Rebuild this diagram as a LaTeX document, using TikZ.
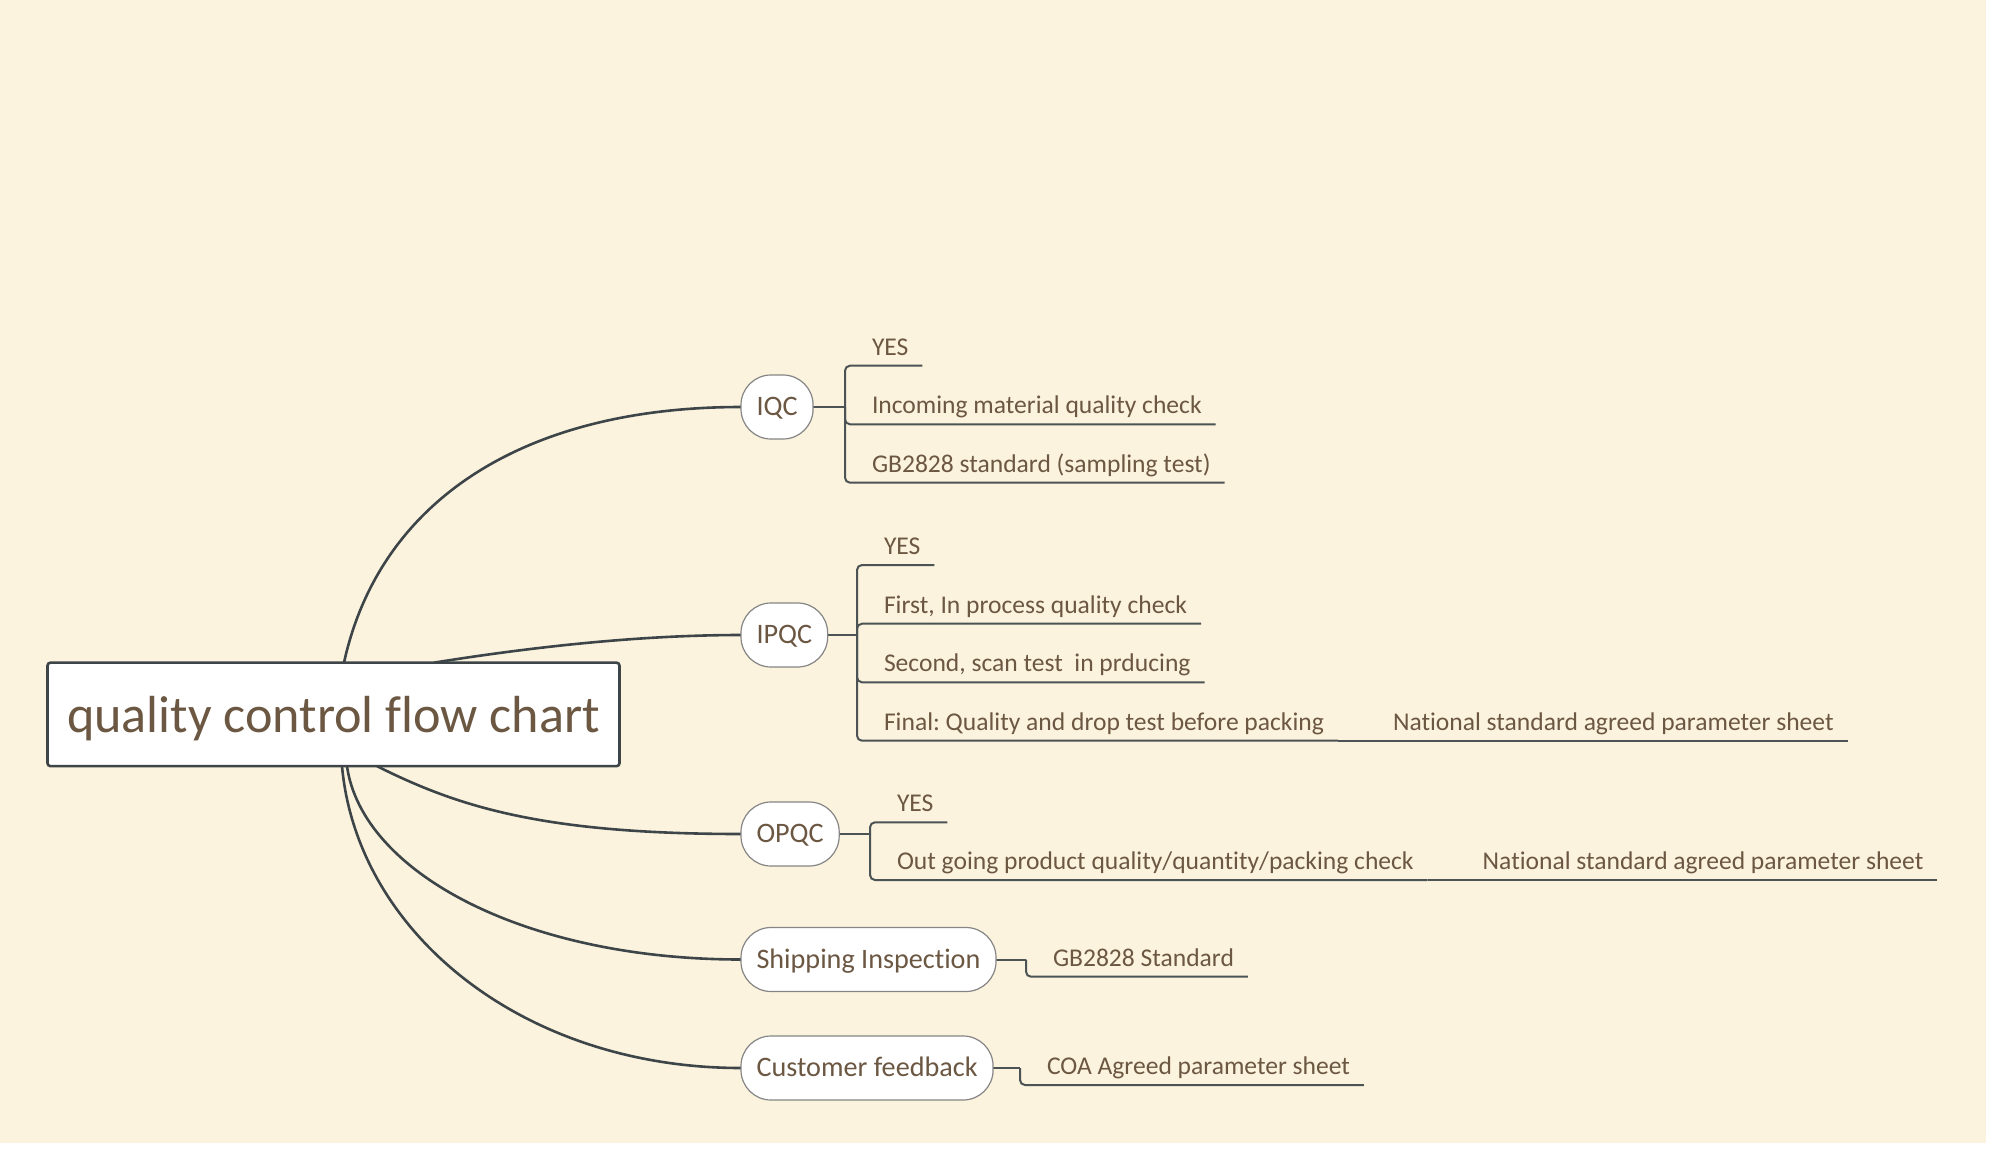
\documentclass[tikz,border=0pt]{standalone}
\usepackage{fontspec}
\setmainfont[Ligatures={NoCommon}]{Carlito}
\usetikzlibrary{calc}
\pgfdeclarelayer{bg}
\pgfdeclarelayer{links}
\pgfsetlayers{bg,links,main}
\definecolor{bgcream}{HTML}{FCF3DE}
\definecolor{txtbrown}{HTML}{6B5742}
\definecolor{linedark}{HTML}{3D4549}
\definecolor{elbowc}{HTML}{4B5355}
\definecolor{topicborder}{HTML}{858585}
\frenchspacing
\newlength\calibw
\newcommand\calibfont[3]{\settowidth\calibw{\fontsize{10pt}{12pt}\selectfont #2}\pgfmathsetmacro#1{10*#3/\calibw}}
\begin{document}
\calibfont\titlesz{quality control flow chart}{533}%
\calibfont\topicsz{Shipping Inspection}{224}%
\calibfont\leafsz{Final: Quality and drop test before packing}{440}%
\pgfmathsetmacro\titleht{0.69*\titlesz}%
\pgfmathsetmacro\topicht{0.632*\topicsz}%
\begin{tikzpicture}[x=1pt,y=-1pt]
\tikzset{
  rootbox/.style={draw=linedark, line width=2.6pt, fill=white, rounded corners=3pt,
    minimum width=572pt, minimum height=103.5pt, inner sep=0pt, outer sep=0pt,
    text=txtbrown, font=\fontsize{\titlesz pt}{\titlesz pt}\selectfont,
    text height=\titleht pt, text depth=0pt},
  topic/.style={draw=topicborder, line width=1.2pt, fill=white, rounded corners=30pt,
    minimum height=64pt, inner xsep=15.5pt, inner ysep=0pt, outer sep=0pt,
    text=txtbrown, font=\fontsize{\topicsz pt}{\topicsz pt}\selectfont,
    text height=\topicht pt, text depth=0pt, anchor=west},
  leaf/.style={anchor=south west, inner xsep=14pt, inner ysep=10.5pt, outer sep=0pt,
    text depth=0pt, text=txtbrown, font=\fontsize{\leafsz pt}{\leafsz pt}\selectfont},
  branch/.style={draw=linedark, line width=2.6pt},
  elbow/.style={draw=elbowc, line width=2pt, rounded corners=5pt},
}
\begin{pgfonlayer}{bg}
\fill[white] (0,0) rectangle (2000,1151);
\fill[bgcream] (0,0) rectangle (1986,1143);
\end{pgfonlayer}
\useasboundingbox (0,0) rectangle (2000,1151);

% root and topics
\node[rootbox] (root) at (333.5,714.4) {quality control flow chart};
\node[topic] (iqc) at (741,407) {IQC};
\node[topic] (ipqc) at (741,635) {IPQC};
\node[topic] (opqc) at (741,834) {OPQC};
\node[topic] (ship) at (741,959.5) {Shipping Inspection};
\node[topic] (cust) at (741,1068) {Customer feedback};

% junctions
\coordinate (jiqc) at (845,407);
\coordinate (jipqc) at (857,635);
\coordinate (jopqc) at (870,834);
\coordinate (jship) at (1026,959.5);
\coordinate (jcust) at (1020,1068);

% leaves
\node[leaf] (iqc1) at (858,365.7) {YES};
\node[leaf] (iqc2) at (858,424.3) {Incoming material quality check};
\node[leaf] (iqc3) at (858,482.7) {GB2828 standard (sampling test)};

\node[leaf] (ipqc1) at (870,565) {YES};
\node[leaf] (ipqc2) at (870,623.7) {First, In process quality check};
\node[leaf] (ipqc3) at (870,682.3) {Second, scan test\ \ in prducing};
\node[leaf] (ipqc4) at (870,740.7) {Final: Quality and drop test before packing};
\node[leaf] (ipqc4a) at ($(ipqc4.south east)+(41,0)$) {National standard agreed parameter sheet};

\node[leaf] (opqc1) at (883,822.3) {YES};
\node[leaf] (opqc2) at (883,880) {Out going product quality/quantity/packing check};
\node[leaf] (opqc2a) at ($(opqc2.south east)+(41,0)$) {National standard agreed parameter sheet};

\node[leaf] (ship1) at (1039,976.7) {GB2828 Standard};
\node[leaf] (cust1) at (1033,1085) {COA Agreed parameter sheet};

\begin{pgfonlayer}{links}
% main curved branches
\draw[branch] ([xshift=10.5pt]root.north) .. controls +(35,-160) and +(-220,0) .. (iqc.west);
\draw[branch] ([xshift=100.5pt]root.north) .. controls +(100,-16) and +(-100,0) .. (ipqc.west);
\draw[branch] ([xshift=43.5pt]root.south) .. controls +(80,40) and +(-200,0) .. (opqc.west);
\draw[branch] ([xshift=13.5pt]root.south) .. controls +(15,106) and +(-217,0) .. (ship.west);
\draw[branch] ([xshift=8.5pt]root.south) .. controls +(15,166) and +(-219,0) .. (cust.west);

% topic to junction
\draw[elbow] (iqc.east) -- (jiqc);
\draw[elbow] (ipqc.east) -- (jipqc);
\draw[elbow] (opqc.east) -- (jopqc);
\draw[elbow] (ship.east) -- (jship);
\draw[elbow] (cust.east) -- (jcust);

% elbows to leaves
\foreach \l in {iqc1,iqc2,iqc3} \draw[elbow] (jiqc) |- (\l.south east);
\foreach \l in {ipqc1,ipqc2,ipqc3,ipqc4} \draw[elbow] (jipqc) |- (\l.south east);
\foreach \l in {opqc1,opqc2} \draw[elbow] (jopqc) |- (\l.south east);
\draw[elbow] (jship) |- (ship1.south east);
\draw[elbow] (jcust) |- (cust1.south east);
\draw[elbow] (ipqc4.south east) -- (ipqc4a.south east);
\draw[elbow] (opqc2.south east) -- (opqc2a.south east);
\end{pgfonlayer}
\end{tikzpicture}
\end{document}
